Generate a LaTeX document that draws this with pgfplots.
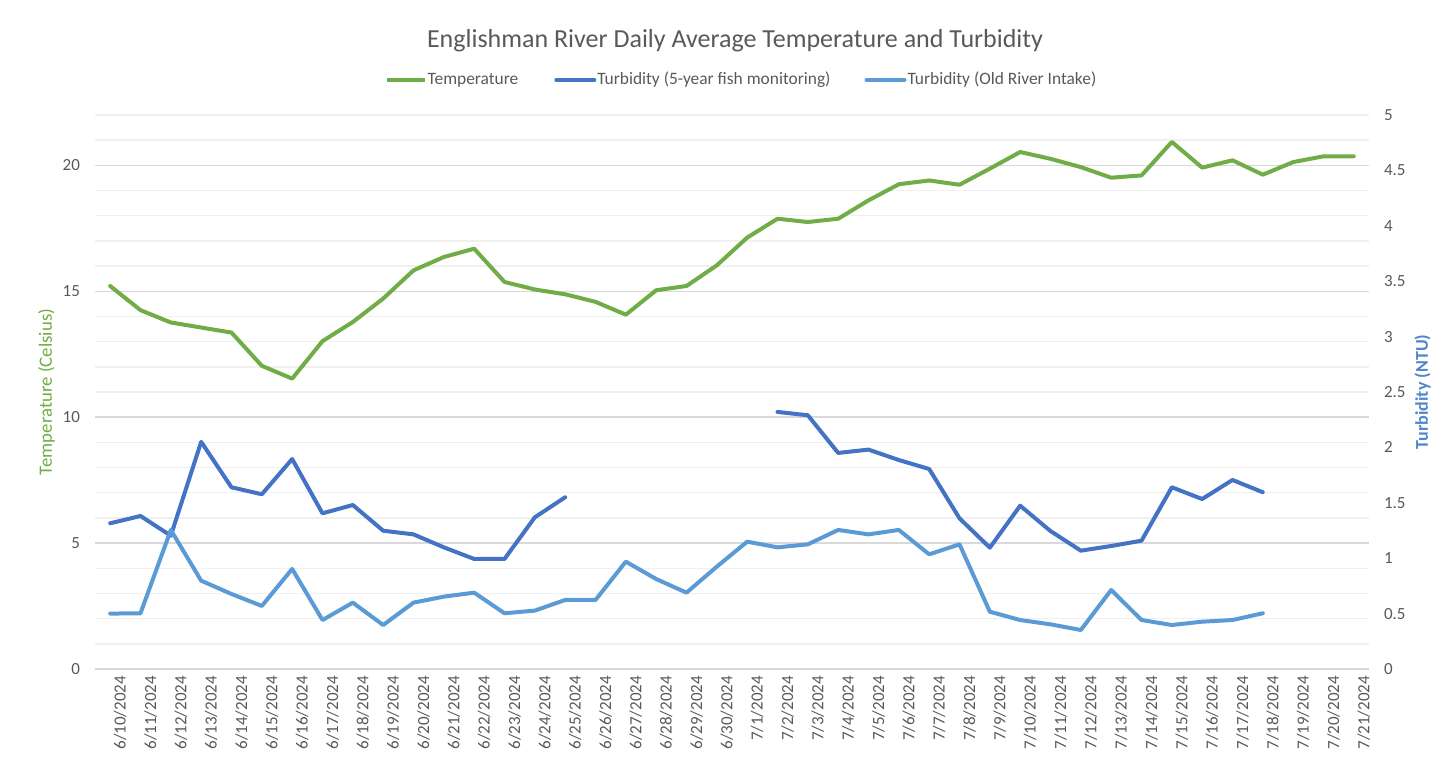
\documentclass[border=0pt]{standalone}
\usepackage{fontspec}
\setmainfont{Carlito}
\usepackage{pgfplots}
\usepackage{pgfplotstable}
\pgfplotsset{compat=1.18}
\definecolor{tgreen}{HTML}{70AD47}
\definecolor{tdblue}{HTML}{4472C4}
\definecolor{tlblue}{HTML}{5B9BD5}
\definecolor{tlab}{HTML}{4F86CC}
\definecolor{txt}{HTML}{595959}
\definecolor{gmaj}{HTML}{D9D9D9}
\definecolor{gmin}{HTML}{F0F0F0}

\pgfplotstableread{
i temp t5 tor
0 15.21 1.315 0.50
1 14.25 1.381 0.503
2 13.76 1.203 1.255
3 13.56 2.05 0.797
4 13.36 1.64 0.677
5 12.04 1.577 0.569
6 11.53 1.895 0.903
7 13.02 1.405 0.442
8 13.78 1.48 0.599
9 14.71 1.248 0.397
10 15.83 1.215 0.599
11 16.36 1.098 0.653
12 16.69 0.993 0.689
13 15.37 0.993 0.503
14 15.07 1.369 0.527
15 14.88 1.55 0.623
16 14.58 nan 0.623
17 14.07 nan 0.969
18 15.04 nan 0.812
19 15.21 nan 0.689
20 16.03 nan 0.924
21 17.13 nan 1.149
22 17.88 2.32 1.098
23 17.75 2.29 1.125
24 17.88 1.95 1.255
25 18.61 1.98 1.215
26 19.25 1.886 1.255
27 19.40 1.805 1.035
28 19.23 1.36 1.125
29 19.87 1.095 0.517
30 20.53 1.474 0.442
31 20.26 1.245 0.403
32 19.93 1.068 0.352
33 19.51 1.11 0.713
34 19.60 1.158 0.442
35 20.93 1.64 0.397
36 19.91 1.534 0.427
37 20.20 1.706 0.442
38 19.63 1.595 0.503
39 20.13 nan nan
40 20.36 nan nan
41 20.36 nan nan
}\data

\begin{document}
\begin{tikzpicture}
\path[use as bounding box] (-47.5pt,-50.5pt) rectangle (680pt,334.5pt);
\begin{axis}[
  at={(0,0)}, anchor=south west,
  scale only axis, width=637pt, height=277pt,
  xmin=-0.5, xmax=41.5, ymin=0, ymax=22,
  xtick={0,...,41},
  xticklabels={6/10/2024,6/11/2024,6/12/2024,6/13/2024,6/14/2024,6/15/2024,6/16/2024,6/17/2024,6/18/2024,6/19/2024,6/20/2024,6/21/2024,6/22/2024,6/23/2024,6/24/2024,6/25/2024,6/26/2024,6/27/2024,6/28/2024,6/29/2024,6/30/2024,7/1/2024,7/2/2024,7/3/2024,7/4/2024,7/5/2024,7/6/2024,7/7/2024,7/8/2024,7/9/2024,7/10/2024,7/11/2024,7/12/2024,7/13/2024,7/14/2024,7/15/2024,7/16/2024,7/17/2024,7/18/2024,7/19/2024,7/20/2024,7/21/2024},
  xticklabel style={rotate=90, anchor=east, font=\fontsize{8.5}{10}\selectfont, text=txt, yshift=-5pt},
  major tick length=0pt, minor tick length=0pt,
  ytick={0,5,10,15,20}, minor ytick={1,2,3,4,6,7,8,9,11,12,13,14,16,17,18,19,21,22},
  ymajorgrids, yminorgrids,
  major grid style={gmaj, line width=0.7pt},
  minor grid style={gmin, line width=0.7pt},
  axis line style={draw=none},
  yticklabel style={font=\fontsize{8.5}{10}\selectfont, text=txt, xshift=-4pt},
  /pgf/number format/assume math mode=true,
  ylabel={Temperature (Celsius)},
  ylabel style={at={(axis description cs:-0.038,0.5)}, anchor=center, text=tgreen, font=\fontsize{9.4}{11}\selectfont},
  title={Englishman River Daily Average Temperature and Turbidity},
  title style={at={(0.5,1)}, anchor=center, xshift=1.5pt, yshift=31pt, font=\fontsize{13}{15}\selectfont, text=txt},
]
\addplot[tgreen, line width=2pt, line join=round, line cap=round] table[x=i, y=temp] {\data};
\end{axis}
\begin{axis}[
  at={(0,0)}, anchor=south west,
  scale only axis, width=637pt, height=277pt,
  xmin=-0.5, xmax=41.5, ymin=0, ymax=5,
  hide x axis,
  axis y line*=right,
  axis line style={draw=none},
  major tick length=0pt,
  ytick={0,0.5,...,5},
  yticklabel style={font=\fontsize{8.5}{10}\selectfont, text=txt, xshift=4pt},
  /pgf/number format/assume math mode=true,
  ylabel={\bfseries Turbidity (NTU)},
  ylabel style={at={(axis description cs:1.042,0.5)}, anchor=center, text=tlab, font=\fontsize{9}{11}\selectfont},
  unbounded coords=jump,
  legend columns=3,
  legend style={at={(0.5,1)}, anchor=center, xshift=4.5pt, yshift=17.5pt, draw=none, fill=none,
    font=\fontsize{8.7}{10}\selectfont, text=txt, column sep=0pt,
    nodes={inner sep=0.5pt}},
  legend image code/.code={\draw[#1, line width=2pt] (0pt,0pt) -- (19pt,0pt);},
]
\addlegendimage{tgreen}
\addlegendentry{Temperature\hspace*{17.5pt}}
\addplot[tdblue, line width=2pt, line join=round, line cap=round] table[x=i, y=t5] {\data};
\addlegendentry{Turbidity (5-year fish monitoring)\hspace*{16.5pt}}
\addplot[tlblue, line width=2pt, line join=round, line cap=round] table[x=i, y=tor] {\data};
\addlegendentry{Turbidity (Old River Intake)}
\end{axis}
\end{tikzpicture}
\end{document}
